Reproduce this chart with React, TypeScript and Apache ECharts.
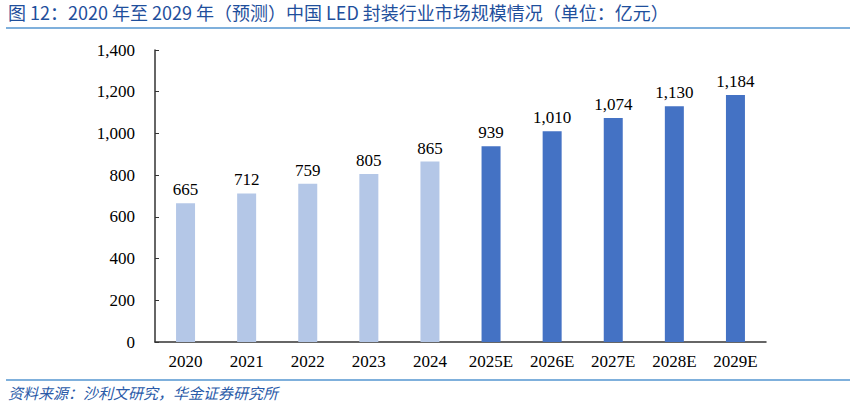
import React, { useEffect, useRef } from "react";
import * as echarts from "echarts";

const categories = ["2020", "2021", "2022", "2023", "2024", "2025E", "2026E", "2027E", "2028E", "2029E"];
const marketSize = [665, 712, 759, 805, 865, 939, 1010, 1074, 1130, 1184];
const isForecast = [false, false, false, false, false, true, true, true, true, true];

const title = "图 12：2020 年至 2029 年（预测）中国 LED 封装行业市场规模情况（单位：亿元）";
const source = "资料来源：沙利文研究，华金证券研究所";

const serif = "'Liberation Serif', 'Times New Roman', serif";
const cjk = "'Noto Sans CJK SC', 'Noto Sans', sans-serif";

const fmt = (v: number) => v.toLocaleString("en-US");

const App = () => {
  const chartRef = useRef<HTMLDivElement>(null);

  useEffect(() => {
    document.body.style.margin = "0";
    if (!chartRef.current) return;
    const chart = echarts.init(chartRef.current, undefined, { renderer: "svg" });
    const options: echarts.EChartsOption = {
      animation: false,
      grid: { left: 155, right: 90, top: 50, bottom: 66 },
      graphic: [
        {
          type: "text",
          left: 8,
          top: 3,
          style: { text: title, font: `18px ${cjk}`, fill: "#1f4f9c" },
        },
        {
          type: "line",
          shape: { x1: 6, y1: 28, x2: 850, y2: 28 },
          style: { stroke: "#7fb0dc", lineWidth: 2 },
        },
        {
          type: "line",
          shape: { x1: 6, y1: 380, x2: 850, y2: 380 },
          style: { stroke: "#7fb0dc", lineWidth: 2 },
        },
        {
          type: "text",
          left: 8,
          top: 385,
          style: { text: source, font: `italic 15px ${cjk}`, fill: "#2a5aa8" },
        },
      ],
      xAxis: {
        type: "category",
        data: categories,
        axisLine: { lineStyle: { color: "#333", width: 1.5 } },
        axisTick: { show: false },
        axisLabel: { color: "#000", fontFamily: serif, fontSize: 17, margin: 11 },
      },
      yAxis: {
        type: "value",
        min: 0,
        max: 1400,
        interval: 200,
        splitLine: { show: false },
        axisLine: { show: true, lineStyle: { color: "#333", width: 1.5 } },
        axisTick: { show: true, inside: true, length: 4, lineStyle: { color: "#333" } },
        axisLabel: {
          color: "#000",
          fontFamily: serif,
          fontSize: 17,
          margin: 20,
          formatter: (v: number) => fmt(v),
        },
      },
      series: [
        {
          type: "bar",
          barWidth: 19,
          data: marketSize.map((v, i) => ({
            value: v,
            itemStyle: { color: isForecast[i] ? "#4472c4" : "#b4c7e7" },
          })),
          label: {
            show: true,
            position: "top",
            distance: 5,
            color: "#000",
            fontFamily: serif,
            fontSize: 17,
            formatter: (p: any) => fmt(p.value),
          },
        },
      ],
    };
    chart.setOption(options);
    return () => {
      chart.dispose();
    };
  }, []);

  return <div ref={chartRef} style={{ width: "856px", height: "408px" }} />;
};

export default App;
